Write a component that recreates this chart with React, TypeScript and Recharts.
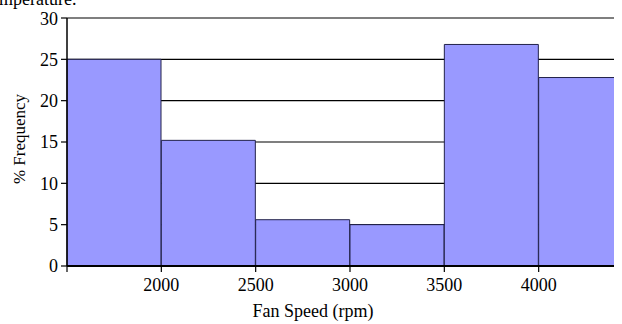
import React from 'react';
import { BarChart, Bar, XAxis, YAxis, CartesianGrid, Label } from 'recharts';

const binLabels = ['1500-2000', '2000-2500', '2500-3000', '3000-3500', '3500-4000', '4000-4500'];
const binUpperEdges = ['2000', '2500', '3000', '3500', '4000', '4500'];
const frequency = [25, 15.2, 5.6, 5, 26.8, 22.8];
const freqTicks = [0, 5, 10, 15, 20, 25, 30];
const xTitle = 'Fan Speed (rpm)';
const yTitle = '% Frequency';
const captionTail = 'temperature.';

const data = binLabels.map((bin, i) => ({ bin, edge: binUpperEdges[i], freq: frequency[i] }));

const font = '"Liberation Serif", "Times New Roman", serif';
const FS = 18;
const tickStyle = { fill: '#000', fontSize: FS, fontFamily: font };
const X_TICK_SIZE = 6;
const X_TICK_MARGIN = 7;

function EdgeTick(props: any) {
  const { y, payload, index } = props;
  const half = payload && typeof payload.offset === 'number' && payload.offset > 0 ? payload.offset : 47.2;
  const center = payload.coordinate;
  const right = center + half;
  const left = center - half;
  const axisY = y - X_TICK_SIZE - X_TICK_MARGIN;
  const i = typeof index === 'number' ? index : 0;
  const edgeLabel = binUpperEdges[i];
  return (
    <g>
      {i === 0 && (
        <line x1={left} x2={left} y1={axisY} y2={axisY + X_TICK_SIZE} stroke="#000" strokeWidth={1.2} />
      )}
      <line x1={right} x2={right} y1={axisY} y2={axisY + X_TICK_SIZE} stroke="#000" strokeWidth={1.2} />
      {i < binUpperEdges.length - 1 && (
        <text
          x={right}
          y={axisY + X_TICK_SIZE + X_TICK_MARGIN}
          dy="0.68em"
          textAnchor="middle"
          fill="#000"
          fontSize={FS}
          fontFamily={font}
        >
          {edgeLabel}
        </text>
      )}
    </g>
  );
}

export default function App() {
  return (
    <div style={{ fontFamily: font }}>
      <div
        style={{
          position: 'absolute',
          left: -14,
          top: -11,
          fontFamily: font,
          fontSize: 18,
          color: '#000',
          whiteSpace: 'nowrap',
        }}
      >
        {captionTail}
      </div>
      <div style={{ position: 'relative', width: 614, height: 316, overflow: 'hidden' }}>
        <BarChart
          width={625}
          height={316}
          data={data}
          margin={{ top: 10, right: 0, left: 0, bottom: 28 }}
          barCategoryGap={0}
          barGap={0}
          style={{ fontFamily: font }}
        >
          <CartesianGrid vertical={false} stroke="#000" strokeWidth={1.2} />
          <XAxis
            dataKey="bin"
            height={30}
            interval={0}
            tickSize={X_TICK_SIZE}
            tickMargin={X_TICK_MARGIN}
            tick={<EdgeTick />}
            tickLine={false}
            axisLine={{ stroke: '#000', strokeWidth: 2 }}
          >
            <Label
              content={() => (
                <text x={305} y={309} textAnchor="middle" fill="#000" fontSize={FS} fontFamily={font}>
                  {xTitle}
                </text>
              )}
            />
          </XAxis>
          <YAxis
            domain={[0, 30]}
            ticks={freqTicks}
            width={59}
            tickSize={6}
            tickMargin={3}
            tick={tickStyle}
            axisLine={{ stroke: '#000', strokeWidth: 1.5 }}
            tickLine={{ stroke: '#000', strokeWidth: 1.2 }}
          >
            <Label
              content={() => (
                <text
                  transform="translate(17,131) rotate(-90)"
                  textAnchor="middle"
                  fill="#000"
                  fontSize={17}
                  fontFamily={font}
                >
                  {yTitle}
                </text>
              )}
            />
          </YAxis>
          <Bar dataKey="freq" fill="#9999FF" stroke="#22224a" strokeWidth={1} isAnimationActive={false} />
        </BarChart>
      </div>
    </div>
  );
}
